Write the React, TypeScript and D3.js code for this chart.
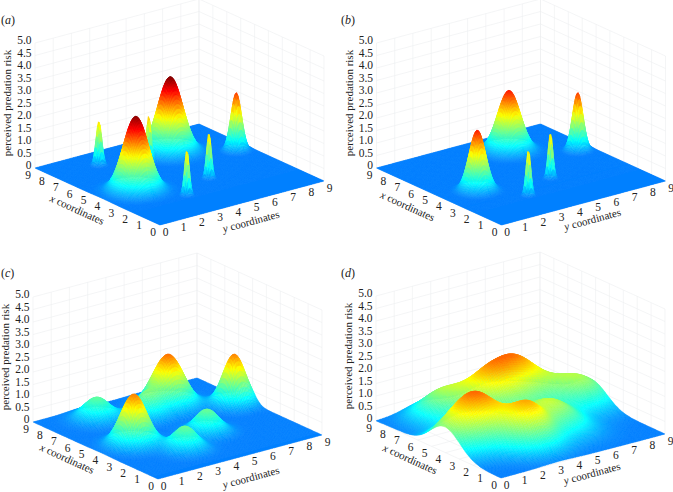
import React from 'react';
import * as d3 from 'd3';

// Terrain hills: [x, y, height, spread]
const hillsA = [[4.1,1.8,2.95,0.55],[7.0,5.9,3.0,0.55],[5.4,8.3,2.3,0.23],[7.6,2.44,1.75,0.125],[6.45,4.3,1.85,0.11],[2.26,3.2,1.8,0.105],[3.36,5.25,1.8,0.105]];
const hillsB = [[4.1,1.8,2.4,0.36],[7.2,5.9,2.4,0.5],[5.4,8.3,2.3,0.23],[2.26,3.2,1.8,0.105],[3.36,5.25,1.8,0.105]];
const hillsC = [[4.1,1.8,2.0,0.58],[7.0,5.9,2.05,0.68],[5.4,8.3,2.0,0.5],[7.6,2.44,0.85,0.6],[6.45,4.3,0.9,0.55],[2.26,3.2,0.9,0.55],[3.36,5.25,0.9,0.55]];
const hillsD = [[4.1,1.8,1.75,1.0],[7.0,6.1,1.75,1.1],[5.2,8.2,1.1,1.05],[7.5,2.5,1.05,0.95],[6.45,4.3,1.4,0.95],[2.26,3.2,1.55,0.85],[3.36,5.25,1.2,1.1],[4.0,0.3,0.7,1.1]];
const panelHills = [hillsA, hillsB, hillsC, hillsD];
const panelNames = ['a', 'b', 'c', 'd'];

const axisTicks = [0, 1, 2, 3, 4, 5, 6, 7, 8, 9];
const riskTicks = [0, 0.5, 1, 1.5, 2, 2.5, 3, 3.5, 4, 4.5, 5];
const zLabel = 'perceived predation risk';

const colorStops = [0, 0.45, 1.5, 2.5, 3];
const colorValues = ['#0080ff', '#00ffff', '#ffff00', '#ff0000', '#800000'];

const W = 673, H = 492;
const meshCells = [170, 170, 110, 110];
const origins = [[160, 225], [501.5, 225], [158, 479], [501, 478]];
const labelPos = [[1, 24], [341, 24], [1, 277], [341, 277]];
const xLabelOff = [[-22, 16.5], [-33, 13], [-30, 11.5], [-30, 13]];
const yLabelOff = [[10, 22], [10, 20], [12, 24], [10, 21]];
const EX = [-125, -57], EY = [164, -44], ZH = 125;
const GRID = '#eceef0';
const SERIF = '"Liberation Serif", "Times New Roman", serif';

const xS = d3.scaleLinear([0, 9], [0, 1]);
const zS = d3.scaleLinear([0, 5], [0, ZH]);
const color = d3.scaleLinear<string>().domain(colorStops).range(colorValues).interpolate(d3.interpolateRgb).clamp(true);

function height(hills: number[][], x: number, y: number) {
  return d3.sum(hills, ([cx, cy, h, s]) => h * Math.exp(-((x - cx) ** 2 + (y - cy) ** 2) / (2 * s * s)));
}

function Panel({ idx }: { idx: number }) {
  const [ox, oy] = origins[idx];
  const px = (x: number, y: number, z: number): [number, number] => [
    ox + xS(x) * EX[0] + xS(y) * EY[0],
    oy + xS(x) * EX[1] + xS(y) * EY[1] - zS(z),
  ];
  const grid: string[] = [];
  const seg = (a: [number, number], b: [number, number]) => grid.push(`M${a[0].toFixed(1)},${a[1].toFixed(1)}L${b[0].toFixed(1)},${b[1].toFixed(1)}`);
  for (const t of axisTicks) {
    seg(px(9, t, 0), px(9, t, 5));
    seg(px(t, 9, 0), px(t, 9, 5));
    seg(px(t, 0, 0), px(t, 9, 0));
    seg(px(0, t, 0), px(9, t, 0));
  }
  for (const r of riskTicks) {
    seg(px(9, 0, r), px(9, 9, r));
    seg(px(9, 9, r), px(0, 9, r));
  }

  const hills = panelHills[idx];
  const n = meshCells[idx];
  const coord = d3.scaleLinear([0, n], [0, 9]);
  const zs: number[][] = d3.range(n + 1).map(i => d3.range(n + 1).map(j => height(hills, coord(i), coord(j))));
  const batches: { c: string; d: string }[] = [];
  let curC = '';
  let cur = d3.pathRound(1);
  const flush = () => { if (curC) batches.push({ c: curC, d: cur.toString() }); };
  for (let i = n - 1; i >= 0; i--) {
    for (let j = n - 1; j >= 0; j--) {
      const z00 = zs[i][j], z01 = zs[i][j + 1], z10 = zs[i + 1][j], z11 = zs[i + 1][j + 1];
      const m = (z00 + z01 + z10 + z11) / 4;
      const c = color(Math.round(m * 250) / 250);
      if (c !== curC) { flush(); curC = c; cur = d3.pathRound(1); }
      const a = px(coord(i), coord(j), z00), b = px(coord(i), coord(j + 1), z01), e = px(coord(i + 1), coord(j + 1), z11), f = px(coord(i + 1), coord(j), z10);
      cur.moveTo(a[0], a[1]); cur.lineTo(b[0], b[1]); cur.lineTo(e[0], e[1]); cur.lineTo(f[0], f[1]); cur.closePath();
    }
  }
  flush();

  const L = px(9, 0, 0);
  const xAng = (Math.atan2(-EX[1], -EX[0]) * 180) / Math.PI;
  const yAng = (Math.atan2(EY[1], EY[0]) * 180) / Math.PI;
  const xc = px(4.5, 0, 0), yc = px(0, 4.5, 0);
  const [lx, ly] = labelPos[idx];
  return (
    <g>
      <path d={grid.join('')} fill="none" stroke={GRID} strokeWidth={0.6} />
      <g filter="url(#soft)">
        {batches.map((b, i) => (
          <path key={i} d={b.d} fill={b.c} stroke={b.c} strokeWidth={0.4} strokeLinejoin="round" />
        ))}
      </g>
      <g fontFamily={SERIF} fontSize={11.5} fill="#222">
        {riskTicks.map(r => {
          const p = px(9, 0, r);
          return <text key={r} x={p[0] - 3.5} y={p[1] + 1} textAnchor="end">{r === 0 ? '0' : r.toFixed(1)}</text>;
        })}
        {axisTicks.map(t => {
          const p = px(t, 0, 0);
          return <text key={t} x={p[0] - 7} y={p[1] + 10.5} textAnchor="middle">{t}</text>;
        })}
        {axisTicks.map(t => {
          const p = px(0, t, 0);
          return <text key={t} x={p[0] + 5.5} y={p[1] + 10.5} textAnchor="middle">{t}</text>;
        })}
        <text transform={`translate(${L[0] - 24},${L[1] - 65}) rotate(-90)`} textAnchor="middle" fontSize={11}>{zLabel}</text>
        <text transform={`translate(${xc[0] + xLabelOff[idx][0]},${xc[1] + xLabelOff[idx][1]}) rotate(${xAng})`} textAnchor="middle" fontSize={11}><tspan fontStyle="italic">x</tspan> coordinates</text>
        <text transform={`translate(${yc[0] + yLabelOff[idx][0]},${yc[1] + yLabelOff[idx][1]}) rotate(${yAng})`} textAnchor="middle" fontSize={11}><tspan fontStyle="italic">y</tspan> coordinates</text>
        <text x={lx} y={ly} fontSize={12}>(<tspan fontStyle="italic">{panelNames[idx]}</tspan>)</text>
      </g>
    </g>
  );
}

export default function App() {
  return (
    <svg width={W} height={H} viewBox={`0 0 ${W} ${H}`} style={{ position: 'absolute', left: 0, top: 0, background: '#fff' }}>
      <defs>
        <filter id="soft" x="-5%" y="-5%" width="110%" height="110%">
          <feGaussianBlur stdDeviation={0.45} />
        </filter>
      </defs>
      {panelHills.map((_, i) => <Panel key={i} idx={i} />)}
    </svg>
  );
}
